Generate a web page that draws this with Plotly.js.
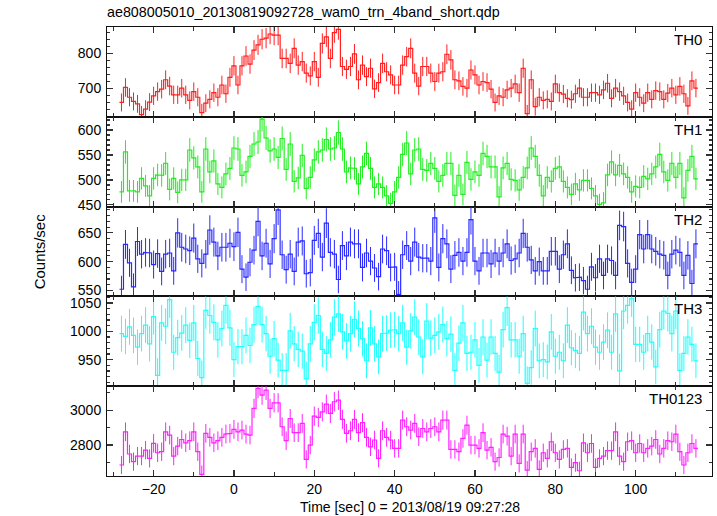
<!DOCTYPE html>
<html><head><meta charset="utf-8">
<script src="https://cdn.plot.ly/plotly-3.0.1.min.js"></script>
<style>html,body{margin:0;padding:0;background:#fff}</style>
</head><body><div id="chart" style="width:717px;height:516px"></div>
<script>
// time bins: centers from -28 s to 115 s, 1 s wide
const tFirst = -28;
const binWidth = 1;

const panelNames = ["TH0", "TH1", "TH2", "TH3", "TH0123"];
const panelColors = ["#ff2020", "#22ee22", "#2a2aff", "#22ffff", "#ff22ff"];

const th0 = [
 659,702,674,662,655,624,640,660,678,690,
 697,724,706,681,681,700,681,665,690,674,
 630,657,668,687,674,709,684,731,764,709,
 764,792,769,809,824,840,843,855,852,852,
 785,785,771,814,766,776,743,735,776,731,
 828,847,785,859,868,762,754,762,798,724,
 766,733,757,698,716,771,747,738,709,709,
 766,790,814,743,706,762,762,743,719,743,
 747,797,781,724,721,705,700,752,738,709,
 719,716,697,659,678,674,695,700,712,687,
 757,627,724,647,674,665,668,662,712,687,
 683,671,667,684,700,674,674,687,687,681,
 695,714,671,700,690,678,659,640,687,674,
 657,687,668,693,690,668,686,700,681,705,
 684,649,721,700];

const th1 = [
 476,556,478,478,476,503,488,468,503,510,
 509,533,481,503,475,500,500,560,544,526,
 476,562,516,538,492,485,512,523,564,562,
 509,516,547,572,576,622,584,558,562,545,
 583,521,572,497,504,549,483,505,540,556,
 560,581,562,564,595,562,516,524,523,492,
 526,553,523,485,492,485,468,453,476,505,
 551,574,512,560,
 562,521,519,533,523,497,509,533,533,469,
 509,471,535,501,516,509,553,547,526,526,
 466,524,533,501,499,480,505,524,564,547,
 509,468,505,497,523,526,497,485,471,492,
 480,499,499,483,468,451,454,510,536,510,
 529,512,505,476,487,485,507,502,512,526,
 551,516,499,533,505,533,464,519,547,502];

const th2 = [
 552,630,598,556,635,613,616,615,595,614,
 583,613,615,584,650,625,622,619,641,605,
 597,613,655,634,610,625,625,632,626,651,
 587,573,599,620,670,610,632,596,640,690,
 612,586,613,583,634,636,579,581,637,649,
 608,667,616,613,569,628,610,634,631,631,
 590,615,601,589,574,622,619,590,591,543,
 612,628,601,634,608,606,606,601,676,590,
 640,631,587,611,616,601,616,673,601,584,
 615,615,596,615,601,615,631,602,605,615,
 649,625,603,584,600,584,584,618,618,587,
 612,631,585,572,573,567,552,591,572,605,
 576,605,602,576,663,661,597,564,587,647,
 622,647,622,618,613,611,576,613,620,616,
 576,611,562,631];

const th3 = [
 996,991,1008,993,972,996,1011,978,1026,922,
 1015,1009,1056,963,989,997,1011,984,1015,952,
 918,1037,1028,1016,985,1005,1046,1006,950,973,
 973,993,975,1012,1044,1012,996,956,987,949,
 931,931,1001,978,968,965,916,978,1016,1028,
 968,961,985,1025,1031,999,983,996,1021,1005,
 987,948,1006,978,955,996,997,1002,1003,996,
 1015,972,1001,1025,990,955,1018,988,993,999,
 1012,987,995,931,979,1015,961,963,985,940,
 990,949,990,961,928,1003,1042,985,985,956,
 996,908,936,1005,948,950,946,999,956,963,
 948,1011,971,966,961,1034,996,1009,972,963,
 981,1002,963,1031,930,1036,1046,1058,977,977,
 963,996,981,937,1003,1036,1032,996,1036,931,
 961,990,977,948];

const th0123 = [
 2686,2876,2749,2705,2737,2737,2771,2724,2810,2756,
 2762,2876,2857,2737,2794,2832,2813,2825,2876,2762,
 2632,2867,2844,2813,2825,2844,2863,2867,2890,2876,
 2886,2863,2857,3010,3124,3086,3114,3010,3042,3042,
 2905,2825,2952,2871,2871,2924,2718,2800,2966,2958,
 2990,3034,2981,3048,3057,2947,2867,2882,2947,2871,
 2928,2844,2790,2829,2724,2882,2844,2829,2781,2781,
 2943,2905,2886,2924,2848,2895,2876,2895,2905,2876,
 2943,2943,2775,2775,2762,2838,2914,2800,2800,2781,
 2871,2771,2787,2705,2729,2863,2851,2737,2863,2695,
 2863,2657,2762,2781,2661,2756,2724,2819,2756,2718,
 2775,2781,2672,2699,2653,2813,2756,2809,2672,2724,
 2737,2768,2768,2876,2737,2705,2819,2825,2756,2809,
 2756,2781,2794,2832,2749,2781,2825,2819,2863,2762,
 2686,2756,2809,2781];

const series = [th0, th1, th2, th3, th0123];

// axis settings
const xRange = [-31.6, 119.0];
const yRanges = [[618, 875], [446.5, 626.5], [539.6, 695.7], [903, 1061.8], [2623, 3137]];
const yMajor = [100, 50, 50, 50, 200];
const yMinor = [20, 10, 10, 10, 100];

const FONT = "Liberation Sans, Arial, Helvetica, sans-serif";
const traces = [];
const layout = {
  width: 717, height: 516,
  margin: {l: 107, r: 5, t: 27, b: 40},
  paper_bgcolor: "#fff", plot_bgcolor: "#fff",
  showlegend: false,
  font: {family: FONT, size: 14, color: "#000"},
  title: {text: "ae808005010_20130819092728_wam0_trn_4band_short.qdp",
          x: 0, xref: "paper", xanchor: "left", y: 0.976, yref: "container", yanchor: "middle",
          font: {family: FONT, size: 14.3, color: "#000"}},
  annotations: []
};

const nPanels = series.length;
for (let p = 0; p < nPanels; p++) {
  const vals = series[p];
  const t = vals.map((_, i) => tFirst + i * binWidth);
  const sx = [], sy = [];
  for (let i = 0; i < vals.length; i++) {
    sx.push(t[i] - binWidth / 2, t[i] + binWidth / 2);
    sy.push(vals[i], vals[i]);
  }
  const ax = p + 1;
  const xa = ax === 1 ? "x" : "x" + ax;
  const ya = ax === 1 ? "y" : "y" + ax;
  const col = panelColors[p];
  // error bars (Poisson, 1 s bins)
  traces.push({
    type: "scatter", mode: "markers", x: t, y: vals, xaxis: xa, yaxis: ya,
    marker: {size: 1, color: col},
    error_y: {type: "data", array: vals.map(v => Math.sqrt(v)), visible: true,
              width: 0, thickness: 1, color: col},
    hoverinfo: "skip"
  });
  traces.push({
    type: "scatter", mode: "lines", x: sx, y: sy, xaxis: xa, yaxis: ya,
    line: {color: col, width: 1.2}, hoverinfo: "skip"
  });

  const top = 1 - p / nPanels, bot = 1 - (p + 1) / nPanels;
  const common = {
    showline: true, linecolor: "#111", linewidth: 1, mirror: "allticks",
    ticks: "inside", tickcolor: "#333", tickwidth: 1.2,
    showgrid: false, zeroline: false
  };
  layout["xaxis" + (ax === 1 ? "" : ax)] = Object.assign({}, common, {
    anchor: ya, domain: [0, 1], range: xRange, autorange: false,
    tick0: 0, dtick: 20, ticklen: 6,
    minor: {dtick: 10, ticklen: 4, ticks: "inside", tickcolor: "#333", showgrid: false},
    showticklabels: p === nPanels - 1,
    tickfont: {family: FONT, size: 14, color: "#000"}
  });
  layout["yaxis" + (ax === 1 ? "" : ax)] = Object.assign({}, common, {
    anchor: xa, domain: [bot, top], range: yRanges[p], autorange: false,
    tick0: 0, dtick: yMajor[p], ticklen: 6,
    minor: {dtick: yMinor[p], ticklen: 3, ticks: "inside", tickcolor: "#333", showgrid: false},
    tickfont: {family: FONT, size: 14, color: "#000"}, ticklabelstandoff: 2
  });
  layout.annotations.push({
    text: panelNames[p], xref: "paper", yref: "paper", x: 1, y: top,
    xanchor: "right", yanchor: "top", xshift: -8, yshift: -2, showarrow: false,
    font: {family: FONT, size: 15, color: "#000"}
  });
}

layout.annotations.push({
  text: "Time [sec] 0 = 2013/08/19 09:27:28", xref: "paper", yref: "paper",
  x: 0.5, y: -0.069, xanchor: "center", yanchor: "middle", showarrow: false,
  font: {family: FONT, size: 14, color: "#000"}
});
layout.annotations.push({
  text: "Counts/sec", xref: "paper", yref: "paper", textangle: -90,
  x: -0.111, y: 0.5, xanchor: "center", yanchor: "middle", showarrow: false,
  font: {family: FONT, size: 15, color: "#000"}
});

Plotly.newPlot("chart", traces, layout, {displayModeBar: false, staticPlot: true});
</script>
</body></html>
